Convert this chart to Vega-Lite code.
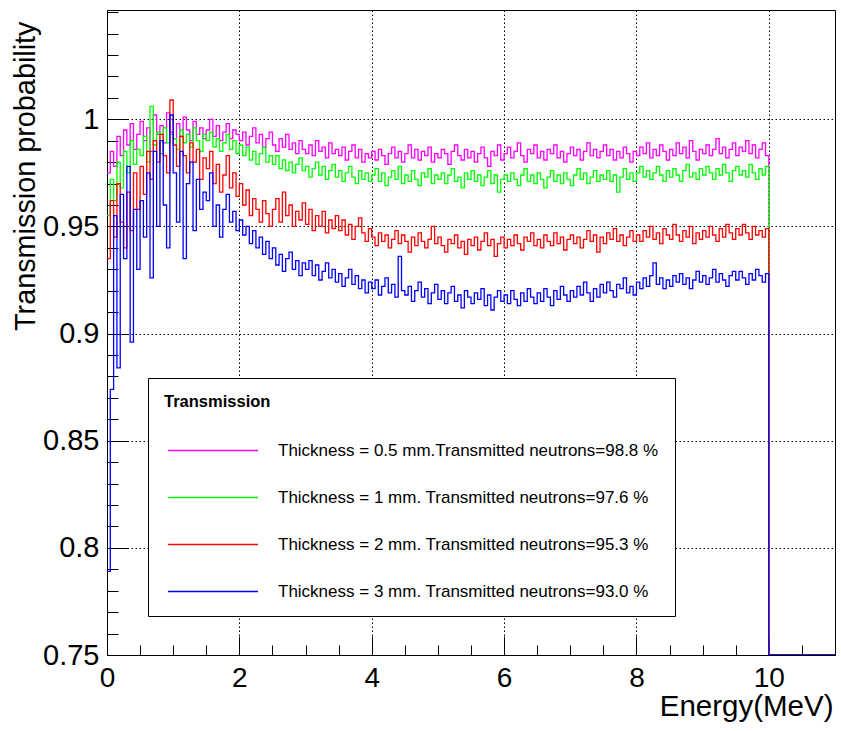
{
"$schema": "https://vega.github.io/schema/vega-lite/v6.json",
"width": 728, "height": 645,
"autosize": {"type": "none"},
"padding": {"left": 107, "top": 10, "right": 6, "bottom": 76},
"background": "white",
"config": {"font": "Liberation Sans", "view": {"stroke": "black", "strokeWidth": 1}},
"data": {"values": [
{"x":0,"a":0.975,"b":0.955,"c":0.935,"d":0.789},
{"x":0.05,"a":0.985,"b":0.972,"c":0.962,"d":0.874},
{"x":0.1,"a":0.978,"b":0.962,"c":0.945,"d":0.955},
{"x":0.15,"a":0.992,"b":0.980,"c":0.970,"d":0.884},
{"x":0.2,"a":0.983,"b":0.968,"c":0.952,"d":0.965},
{"x":0.25,"a":0.995,"b":0.985,"c":0.940,"d":0.935},
{"x":0.3,"a":0.988,"b":0.975,"c":0.966,"d":0.978},
{"x":0.35,"a":0.998,"b":0.990,"c":0.948,"d":0.896},
{"x":0.4,"a":0.986,"b":0.979,"c":0.975,"d":0.958},
{"x":0.45,"a":0.993,"b":0.986,"c":0.958,"d":0.930},
{"x":0.5,"a":0.999,"b":0.983,"c":0.978,"d":0.962},
{"x":0.55,"a":0.990,"b":0.992,"c":0.965,"d":0.945},
{"x":0.6,"a":0.996,"b":0.980,"c":0.985,"d":0.975},
{"x":0.65,"a":0.985,"b":1.006,"c":0.972,"d":0.926},
{"x":0.7,"a":1.002,"b":0.988,"c":0.990,"d":0.985},
{"x":0.75,"a":0.993,"b":0.994,"c":0.980,"d":0.950},
{"x":0.8,"a":0.997,"b":0.984,"c":0.993,"d":0.990},
{"x":0.85,"a":0.989,"b":0.996,"c":0.983,"d":0.960},
{"x":0.9,"a":1.003,"b":0.989,"c":0.975,"d":0.940},
{"x":0.95,"a":0.994,"b":0.993,"c":1.009,"d":1.002},
{"x":1.0,"a":0.991,"b":0.991,"c":0.988,"d":0.975},
{"x":1.05,"a":0.998,"b":0.986,"c":0.978,"d":0.952},
{"x":1.1,"a":0.992,"b":0.995,"c":0.992,"d":0.985},
{"x":1.15,"a":1.001,"b":0.989,"c":0.983,"d":0.935},
{"x":1.2,"a":0.995,"b":0.993,"c":0.975,"d":0.970},
{"x":1.25,"a":0.990,"b":0.987,"c":0.989,"d":0.980},
{"x":1.3,"a":0.999,"b":0.996,"c":0.980,"d":0.948},
{"x":1.35,"a":0.993,"b":0.990,"c":0.986,"d":0.972},
{"x":1.4,"a":0.996,"b":0.985,"c":0.972,"d":0.958},
{"x":1.45,"a":0.991,"b":0.993,"c":0.982,"d":0.966},
{"x":1.5,"a":0.995,"b":0.990,"c":0.977,"d":0.962},
{"x":1.55,"a":1.000,"b":0.994,"c":0.985,"d":0.975},
{"x":1.6,"a":0.992,"b":0.987,"c":0.970,"d":0.950},
{"x":1.65,"a":0.997,"b":0.991,"c":0.979,"d":0.960},
{"x":1.7,"a":0.990,"b":0.985,"c":0.966,"d":0.945},
{"x":1.75,"a":0.994,"b":0.989,"c":0.974,"d":0.958},
{"x":1.8,"a":0.998,"b":0.993,"c":0.983,"d":0.965},
{"x":1.85,"a":0.991,"b":0.986,"c":0.968,"d":0.952},
{"x":1.9,"a":0.995,"b":0.990,"c":0.975,"d":0.957},
{"x":1.95,"a":0.993,"b":0.984,"c":0.964,"d":0.948},
{"x":2.0,"a":0.990,"b":0.988,"c":0.970,"d":0.953},
{"x":2.05,"a":0.994,"b":0.983,"c":0.960,"d":0.946},
{"x":2.1,"a":0.988,"b":0.987,"c":0.967,"d":0.950},
{"x":2.15,"a":0.992,"b":0.981,"c":0.955,"d":0.942},
{"x":2.2,"a":0.996,"b":0.985,"c":0.963,"d":0.948},
{"x":2.25,"a":0.989,"b":0.979,"c":0.958,"d":0.940},
{"x":2.3,"a":0.993,"b":0.984,"c":0.952,"d":0.945},
{"x":2.35,"a":0.987,"b":0.987,"c":0.962,"d":0.937},
{"x":2.4,"a":0.991,"b":0.980,"c":0.956,"d":0.943},
{"x":2.45,"a":0.994,"b":0.983,"c":0.950,"d":0.935},
{"x":2.5,"a":0.988,"b":0.979,"c":0.958,"d":0.940},
{"x":2.55,"a":0.985,"b":0.983,"c":0.963,"d":0.932},
{"x":2.6,"a":0.991,"b":0.977,"c":0.952,"d":0.937},
{"x":2.65,"a":0.987,"b":0.981,"c":0.966,"d":0.929},
{"x":2.7,"a":0.993,"b":0.976,"c":0.955,"d":0.935},
{"x":2.75,"a":0.986,"b":0.980,"c":0.960,"d":0.938},
{"x":2.8,"a":0.989,"b":0.975,"c":0.950,"d":0.930},
{"x":2.85,"a":0.984,"b":0.979,"c":0.957,"d":0.934},
{"x":2.9,"a":0.990,"b":0.982,"c":0.953,"d":0.927},
{"x":2.95,"a":0.986,"b":0.976,"c":0.961,"d":0.933},
{"x":3.0,"a":0.984,"b":0.978,"c":0.951,"d":0.930},
{"x":3.05,"a":0.988,"b":0.973,"c":0.958,"d":0.934},
{"x":3.1,"a":0.983,"b":0.977,"c":0.948,"d":0.927},
{"x":3.15,"a":0.990,"b":0.980,"c":0.955,"d":0.932},
{"x":3.2,"a":0.985,"b":0.974,"c":0.950,"d":0.925},
{"x":3.25,"a":0.987,"b":0.978,"c":0.957,"d":0.929},
{"x":3.3,"a":0.982,"b":0.972,"c":0.947,"d":0.933},
{"x":3.35,"a":0.989,"b":0.976,"c":0.953,"d":0.926},
{"x":3.4,"a":0.984,"b":0.979,"c":0.949,"d":0.930},
{"x":3.45,"a":0.986,"b":0.973,"c":0.955,"d":0.924},
{"x":3.5,"a":0.983,"b":0.976,"c":0.948,"d":0.928},
{"x":3.55,"a":0.987,"b":0.971,"c":0.953,"d":0.922},
{"x":3.6,"a":0.981,"b":0.975,"c":0.946,"d":0.926},
{"x":3.65,"a":0.985,"b":0.978,"c":0.951,"d":0.930},
{"x":3.7,"a":0.988,"b":0.973,"c":0.944,"d":0.923},
{"x":3.75,"a":0.982,"b":0.970,"c":0.950,"d":0.927},
{"x":3.8,"a":0.986,"b":0.976,"c":0.954,"d":0.921},
{"x":3.85,"a":0.980,"b":0.972,"c":0.947,"d":0.925},
{"x":3.9,"a":0.984,"b":0.975,"c":0.943,"d":0.919},
{"x":3.95,"a":0.982,"b":0.971,"c":0.949,"d":0.924},
{"x":4.0,"a":0.985,"b":0.974,"c":0.945,"d":0.921},
{"x":4.05,"a":0.981,"b":0.977,"c":0.941,"d":0.925},
{"x":4.1,"a":0.986,"b":0.971,"c":0.947,"d":0.918},
{"x":4.15,"a":0.983,"b":0.975,"c":0.943,"d":0.922},
{"x":4.2,"a":0.979,"b":0.969,"c":0.946,"d":0.926},
{"x":4.25,"a":0.984,"b":0.973,"c":0.940,"d":0.919},
{"x":4.3,"a":0.987,"b":0.976,"c":0.944,"d":0.923},
{"x":4.35,"a":0.982,"b":0.972,"c":0.948,"d":0.917},
{"x":4.4,"a":0.985,"b":0.978,"c":0.942,"d":0.936},
{"x":4.45,"a":0.980,"b":0.970,"c":0.946,"d":0.920},
{"x":4.5,"a":0.984,"b":0.974,"c":0.943,"d":0.918},
{"x":4.55,"a":0.988,"b":0.971,"c":0.938,"d":0.922},
{"x":4.6,"a":0.982,"b":0.976,"c":0.945,"d":0.915},
{"x":4.65,"a":0.986,"b":0.972,"c":0.941,"d":0.920},
{"x":4.7,"a":0.981,"b":0.969,"c":0.947,"d":0.924},
{"x":4.75,"a":0.985,"b":0.975,"c":0.943,"d":0.917},
{"x":4.8,"a":0.983,"b":0.973,"c":0.940,"d":0.921},
{"x":4.85,"a":0.987,"b":0.977,"c":0.944,"d":0.914},
{"x":4.9,"a":0.980,"b":0.970,"c":0.950,"d":0.919},
{"x":4.95,"a":0.984,"b":0.974,"c":0.942,"d":0.923},
{"x":5.0,"a":0.982,"b":0.972,"c":0.945,"d":0.916},
{"x":5.05,"a":0.986,"b":0.975,"c":0.941,"d":0.920},
{"x":5.1,"a":0.984,"b":0.970,"c":0.938,"d":0.914},
{"x":5.15,"a":0.979,"b":0.974,"c":0.944,"d":0.919},
{"x":5.2,"a":0.985,"b":0.977,"c":0.942,"d":0.922},
{"x":5.25,"a":0.988,"b":0.971,"c":0.946,"d":0.915},
{"x":5.3,"a":0.983,"b":0.973,"c":0.940,"d":0.918},
{"x":5.35,"a":0.981,"b":0.968,"c":0.943,"d":0.912},
{"x":5.4,"a":0.986,"b":0.975,"c":0.937,"d":0.920},
{"x":5.45,"a":0.982,"b":0.972,"c":0.944,"d":0.917},
{"x":5.5,"a":0.985,"b":0.976,"c":0.941,"d":0.914},
{"x":5.55,"a":0.980,"b":0.971,"c":0.945,"d":0.919},
{"x":5.6,"a":0.984,"b":0.974,"c":0.939,"d":0.916},
{"x":5.65,"a":0.987,"b":0.969,"c":0.943,"d":0.921},
{"x":5.7,"a":0.982,"b":0.973,"c":0.947,"d":0.913},
{"x":5.75,"a":0.978,"b":0.976,"c":0.941,"d":0.918},
{"x":5.8,"a":0.985,"b":0.970,"c":0.944,"d":0.911},
{"x":5.85,"a":0.983,"b":0.974,"c":0.936,"d":0.917},
{"x":5.9,"a":0.988,"b":0.966,"c":0.942,"d":0.920},
{"x":5.95,"a":0.981,"b":0.972,"c":0.945,"d":0.915},
{"x":6.0,"a":0.984,"b":0.974,"c":0.940,"d":0.918},
{"x":6.05,"a":0.987,"b":0.971,"c":0.944,"d":0.914},
{"x":6.1,"a":0.982,"b":0.975,"c":0.941,"d":0.920},
{"x":6.15,"a":0.985,"b":0.972,"c":0.946,"d":0.916},
{"x":6.2,"a":0.989,"b":0.969,"c":0.942,"d":0.913},
{"x":6.25,"a":0.983,"b":0.974,"c":0.939,"d":0.919},
{"x":6.3,"a":0.980,"b":0.977,"c":0.945,"d":0.915},
{"x":6.35,"a":0.986,"b":0.971,"c":0.943,"d":0.921},
{"x":6.4,"a":0.984,"b":0.974,"c":0.947,"d":0.917},
{"x":6.45,"a":0.988,"b":0.970,"c":0.941,"d":0.914},
{"x":6.5,"a":0.982,"b":0.975,"c":0.944,"d":0.919},
{"x":6.55,"a":0.985,"b":0.972,"c":0.940,"d":0.915},
{"x":6.6,"a":0.981,"b":0.968,"c":0.946,"d":0.921},
{"x":6.65,"a":0.986,"b":0.973,"c":0.943,"d":0.917},
{"x":6.7,"a":0.984,"b":0.976,"c":0.941,"d":0.913},
{"x":6.75,"a":0.988,"b":0.971,"c":0.947,"d":0.920},
{"x":6.8,"a":0.982,"b":0.974,"c":0.942,"d":0.916},
{"x":6.85,"a":0.985,"b":0.970,"c":0.945,"d":0.922},
{"x":6.9,"a":0.980,"b":0.975,"c":0.939,"d":0.918},
{"x":6.95,"a":0.984,"b":0.972,"c":0.944,"d":0.915},
{"x":7.0,"a":0.987,"b":0.969,"c":0.946,"d":0.920},
{"x":7.05,"a":0.983,"b":0.974,"c":0.942,"d":0.917},
{"x":7.1,"a":0.986,"b":0.977,"c":0.945,"d":0.922},
{"x":7.15,"a":0.981,"b":0.972,"c":0.940,"d":0.918},
{"x":7.2,"a":0.985,"b":0.975,"c":0.944,"d":0.924},
{"x":7.25,"a":0.989,"b":0.970,"c":0.948,"d":0.919},
{"x":7.3,"a":0.983,"b":0.973,"c":0.943,"d":0.915},
{"x":7.35,"a":0.986,"b":0.976,"c":0.946,"d":0.921},
{"x":7.4,"a":0.982,"b":0.971,"c":0.938,"d":0.917},
{"x":7.45,"a":0.985,"b":0.974,"c":0.945,"d":0.923},
{"x":7.5,"a":0.988,"b":0.972,"c":0.942,"d":0.919},
{"x":7.55,"a":0.983,"b":0.976,"c":0.947,"d":0.924},
{"x":7.6,"a":0.986,"b":0.971,"c":0.944,"d":0.920},
{"x":7.65,"a":0.981,"b":0.974,"c":0.949,"d":0.917},
{"x":7.7,"a":0.985,"b":0.966,"c":0.943,"d":0.923},
{"x":7.75,"a":0.982,"b":0.973,"c":0.946,"d":0.921},
{"x":7.8,"a":0.987,"b":0.977,"c":0.941,"d":0.926},
{"x":7.85,"a":0.984,"b":0.972,"c":0.945,"d":0.919},
{"x":7.9,"a":0.980,"b":0.975,"c":0.948,"d":0.922},
{"x":7.95,"a":0.985,"b":0.971,"c":0.943,"d":0.918},
{"x":8.0,"a":0.983,"b":0.975,"c":0.946,"d":0.924},
{"x":8.05,"a":0.987,"b":0.978,"c":0.943,"d":0.921},
{"x":8.1,"a":0.984,"b":0.973,"c":0.948,"d":0.926},
{"x":8.15,"a":0.989,"b":0.976,"c":0.945,"d":0.922},
{"x":8.2,"a":0.982,"b":0.972,"c":0.950,"d":0.927},
{"x":8.25,"a":0.986,"b":0.975,"c":0.944,"d":0.933},
{"x":8.3,"a":0.983,"b":0.978,"c":0.947,"d":0.923},
{"x":8.35,"a":0.988,"b":0.974,"c":0.942,"d":0.926},
{"x":8.4,"a":0.985,"b":0.971,"c":0.949,"d":0.921},
{"x":8.45,"a":0.981,"b":0.976,"c":0.946,"d":0.925},
{"x":8.5,"a":0.986,"b":0.973,"c":0.944,"d":0.922},
{"x":8.55,"a":0.983,"b":0.977,"c":0.951,"d":0.927},
{"x":8.6,"a":0.989,"b":0.974,"c":0.946,"d":0.924},
{"x":8.65,"a":0.984,"b":0.971,"c":0.943,"d":0.928},
{"x":8.7,"a":0.987,"b":0.976,"c":0.948,"d":0.923},
{"x":8.75,"a":0.982,"b":0.979,"c":0.945,"d":0.926},
{"x":8.8,"a":0.990,"b":0.973,"c":0.950,"d":0.921},
{"x":8.85,"a":0.985,"b":0.975,"c":0.942,"d":0.925},
{"x":8.9,"a":0.981,"b":0.972,"c":0.947,"d":0.929},
{"x":8.95,"a":0.986,"b":0.977,"c":0.944,"d":0.924},
{"x":9.0,"a":0.984,"b":0.974,"c":0.948,"d":0.927},
{"x":9.05,"a":0.988,"b":0.978,"c":0.945,"d":0.923},
{"x":9.1,"a":0.983,"b":0.975,"c":0.950,"d":0.926},
{"x":9.15,"a":0.986,"b":0.972,"c":0.946,"d":0.930},
{"x":9.2,"a":0.991,"b":0.977,"c":0.943,"d":0.924},
{"x":9.25,"a":0.984,"b":0.974,"c":0.949,"d":0.928},
{"x":9.3,"a":0.987,"b":0.979,"c":0.945,"d":0.925},
{"x":9.35,"a":0.982,"b":0.975,"c":0.951,"d":0.922},
{"x":9.4,"a":0.986,"b":0.971,"c":0.947,"d":0.927},
{"x":9.45,"a":0.989,"b":0.976,"c":0.944,"d":0.929},
{"x":9.5,"a":0.983,"b":0.978,"c":0.949,"d":0.925},
{"x":9.55,"a":0.987,"b":0.974,"c":0.946,"d":0.929},
{"x":9.6,"a":0.985,"b":0.976,"c":0.951,"d":0.926},
{"x":9.65,"a":0.990,"b":0.973,"c":0.947,"d":0.923},
{"x":9.7,"a":0.984,"b":0.979,"c":0.944,"d":0.928},
{"x":9.75,"a":0.988,"b":0.975,"c":0.950,"d":0.925},
{"x":9.8,"a":0.982,"b":0.972,"c":0.946,"d":0.930},
{"x":9.85,"a":0.986,"b":0.977,"c":0.948,"d":0.927},
{"x":9.9,"a":0.989,"b":0.974,"c":0.945,"d":0.924},
{"x":9.95,"a":0.983,"b":0.978,"c":0.949,"d":0.928},
{"x":10.0,"a":0,"b":0,"c":0,"d":0},
{"x":11.0,"a":0,"b":0,"c":0,"d":0}
]},
"transform": [{"fold": ["a","b","c","d"], "as": ["k","v"]}],
"resolve": {"axis": {"x": "independent", "y": "independent"}},
"layer": [
{
"mark": {"type": "line", "interpolate": "step-after", "strokeWidth": 1.3, "clip": true},
"encoding": {
  "x": {"field": "x", "type": "quantitative",
    "scale": {"domain": [0, 11], "nice": false, "zero": false},
    "axis": {
      "orient": "bottom",
      "title": "Energy(MeV)",
      "values": [0,2,4,6,8,10],
      "format": "d",
      "labelOverlap": false, "labelFlush": false,
      "labelFontSize": 28, "labelColor": "black", "labelPadding": 28,
      "domainColor": "black",
      "tickColor": "black", "tickSize": -19,
      "grid": true, "gridColor": "black", "gridDash": [1.5, 2.5], "gridWidth": 1,
      "titleFontSize": 29.5, "titleFontWeight": "normal", "titleColor": "black",
      "titleAnchor": "end", "titleAlign": "right", "titleBaseline": "alphabetic",
      "titleX": 726, "titleY": 60
    }
  },
  "y": {"field": "v", "type": "quantitative",
    "scale": {"domain": [0.75, 1.051], "nice": false, "zero": false, "clamp": true},
    "axis": {
      "orient": "left",
      "title": "Transmission probability",
      "values": [0.75,0.8,0.85,0.9,0.95,1],
      "format": "~g",
      "labelOverlap": false, "labelFlush": false,
      "labelFontSize": 29, "labelColor": "black", "labelPadding": 29,
      "domainColor": "black",
      "tickColor": "black", "tickSize": -21,
      "grid": true, "gridColor": "black", "gridDash": [1.5, 2.5], "gridWidth": 1,
      "titleFontSize": 28.8, "titleFontWeight": "normal", "titleColor": "black",
      "titleAnchor": "end", "titleAngle": -90, "titleAlign": "right", "titleBaseline": "top",
      "titleX": -96, "titleY": 11
    }
  },
  "color": {"field": "k", "type": "nominal",
    "scale": {"domain": ["a","b","c","d"], "range": ["#ff00ff","#00ff00","#ff0000","#0000ff"]},
    "legend": {
      "orient": "none", "legendX": 41, "legendY": 368,
      "title": "Transmission", "titleFontSize": 16.5, "titleFontWeight": "bold", "titleColor": "black", "titlePadding": 28,
      "labelFontSize": 17, "labelColor": "black", "labelLimit": 1000, "labelOffset": 53,
      "symbolType": "M-4,0H4", "symbolSize": 506, "symbolStrokeWidth": 1.5, "symbolOffset": 37,
      "rowPadding": 27, "padding": 16,
      "fillColor": "white", "strokeColor": "black",
      "labelExpr": "datum.label === 'a' ? 'Thickness = 0.5 mm.Transmitted neutrons=98.8 %' : datum.label === 'b' ? 'Thickness = 1 mm. Transmitted neutrons=97.6 %' : datum.label === 'c' ? 'Thickness = 2 mm. Transmitted neutrons=95.3 %' : 'Thickness = 3 mm. Transmitted neutrons=93.0 %'"
    }
  }
}
},
{
"mark": {"type": "point", "opacity": 0},
"encoding": {
  "x": {"field": "x", "type": "quantitative",
    "scale": {"domain": [0, 11], "nice": false, "zero": false},
    "axis": {
      "orient": "bottom", "title": null, "labels": false, "domain": false, "grid": false,
      "values": [0,0.5,1,1.5,2,2.5,3,3.5,4,4.5,5,5.5,6,6.5,7,7.5,8,8.5,9,9.5,10,10.5,11],
      "tickColor": "black", "tickSize": -10
    }
  },
  "y": {"field": "v", "type": "quantitative",
    "scale": {"domain": [0.75, 1.051], "nice": false, "zero": false, "clamp": true},
    "axis": {
      "orient": "left", "title": null, "labels": false, "domain": false, "grid": false,
      "values": [0.75,0.76,0.77,0.78,0.79,0.8,0.81,0.82,0.83,0.84,0.85,0.86,0.87,0.88,0.89,0.9,0.91,0.92,0.93,0.94,0.95,0.96,0.97,0.98,0.99,1,1.01,1.02,1.03,1.04,1.05],
      "tickColor": "black", "tickSize": -11
    }
  }
}
}
]
}
